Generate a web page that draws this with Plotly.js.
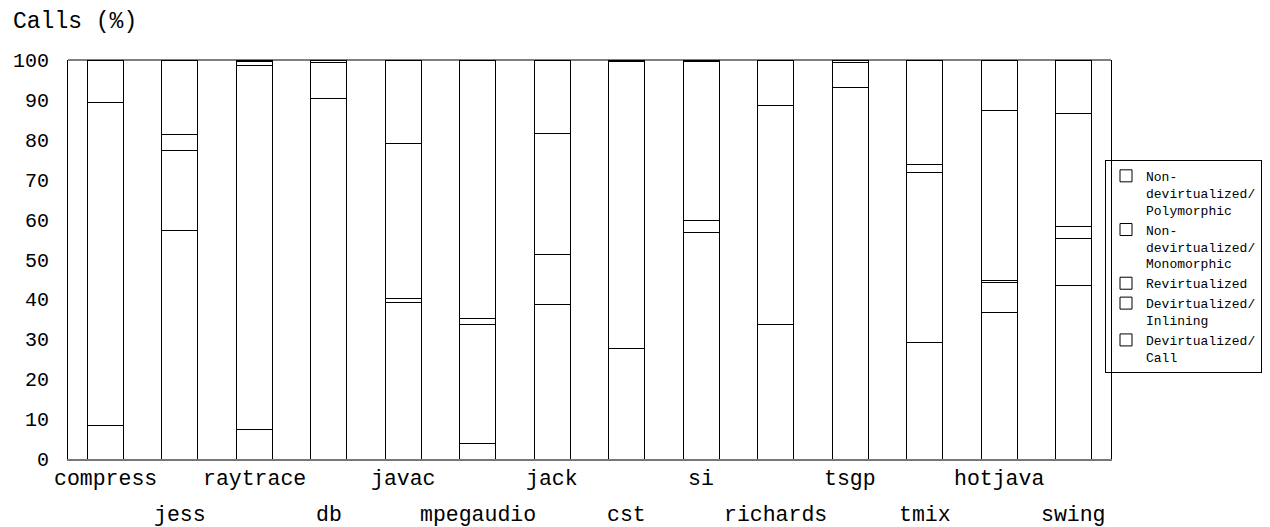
<!DOCTYPE html>
<html>
<head>
<meta charset="utf-8">
<script src="https://cdn.plot.ly/plotly-3.0.1.min.js"></script>
<style>html,body{margin:0;padding:0;background:#fff;}#chart{width:1270px;height:527px;}</style>
</head>
<body>
<div id="chart"></div>
<script>
const categories = ["compress","jess","raytrace","db","javac","mpegaudio","jack","cst","si","richards","tsgp","tmix","hotjava","swing"];
const seriesNames = ["Devirtualized/<br>Call","Devirtualized/<br>Inlining","Revirtualized","Non-<br>devirtualized/<br>Monomorphic","Non-<br>devirtualized/<br>Polymorphic"];
const devirtCall     = [8.5, 57.3, 7.5, 0,    0,    4.0, 38.6, 27.6, 0,    33.6, 0,    29.1, 36.7, 43.6];
const devirtInlining = [80.9,20.1, 91.0,90.4, 39.2, 29.6,12.7, 72.0, 56.8, 54.9, 93.0, 42.8, 7.5,  11.6];
const revirtualized  = [0,   4.0,  0,   0,    1.1,  1.7, 0,    0,    2.9,  0,    0,    2.0,  0.5,  3.0];
const nonDevirtMono  = [10.6,18.6, 1.2, 9.1,  38.7, 64.7,30.2, 0.4,  39.9, 11.5, 6.5,  26.1, 42.7, 28.3];
const nonDevirtPoly  = [0,   0,    0.3, 0.5,  21.0, 0,   18.5, 0,    0.4,  0,    0.5,  0,    12.6, 13.5];
const yTicks = [0,10,20,30,40,50,60,70,80,90,100];

const FONT = '"Liberation Mono", "Courier New", monospace';
const seriesValues = [devirtCall, devirtInlining, revirtualized, nonDevirtMono, nonDevirtPoly];
const traces = seriesValues.map((vals, i) => ({
  type: 'bar',
  name: seriesNames[i],
  x: categories,
  y: vals,
  marker: {color: '#ffffff', line: {color: '#000000', width: 1}},
  hoverinfo: 'x+y+name'
}));

const annotations = categories.map((c, i) => ({
  x: c, xref: 'x', y: 0, yref: 'paper',
  text: c, showarrow: false,
  xanchor: 'center', yanchor: 'middle',
  yshift: i % 2 === 0 ? -20 : -56,
  font: {family: FONT, size: 21.5, color: '#000'}
}));

const layout = {
  width: 1270, height: 527,
  paper_bgcolor: '#ffffff', plot_bgcolor: '#ffffff',
  barmode: 'stack',
  bargap: 0.517,
  margin: {l: 68, r: 159, t: 60, b: 67.5, autoexpand: false},
  font: {family: FONT, color: '#000'},
  title: {text: 'Calls (%)', x: 13/1270, xanchor: 'left', xref: 'container', y: 1 - 20/527, yanchor: 'middle', yref: 'container', font: {family: FONT, size: 23, color: '#000'}},
  xaxis: {
    type: 'category', showticklabels: false, ticks: '',
    showgrid: false, zeroline: false,
    showline: true, linecolor: '#777', linewidth: 2,
    range: [-0.5, categories.length - 0.5]
  },
  yaxis: {
    range: [0, 100], tickvals: yTicks, ticktext: yTicks.map(String),
    showgrid: false, zeroline: false, ticks: '',
    showline: true, mirror: true, linecolor: '#000', linewidth: 1,
    ticklabelstandoff: 14,
    tickfont: {family: FONT, size: 20, color: '#000'}
  },
  shapes: [{type: 'line', xref: 'paper', yref: 'paper', x0: 0, x1: 1, y0: 1, y1: 1, line: {color: '#000', width: 1}}],
  annotations: annotations,
  showlegend: true,
  legend: {
    x: (1105 - 68) / 1043, xanchor: 'left', xref: 'paper',
    y: (459.5 - 160) / 399.5, yanchor: 'top', yref: 'paper',
    traceorder: 'reversed', valign: 'top',
    bgcolor: 'rgba(0,0,0,0)', bordercolor: '#000', borderwidth: 1,
    font: {family: FONT, size: 13, color: '#000'},
    itemwidth: 30, tracegroupgap: 0
  }
};

Plotly.newPlot('chart', traces, layout, {displayModeBar: false, staticPlot: true});
</script>
</body>
</html>
